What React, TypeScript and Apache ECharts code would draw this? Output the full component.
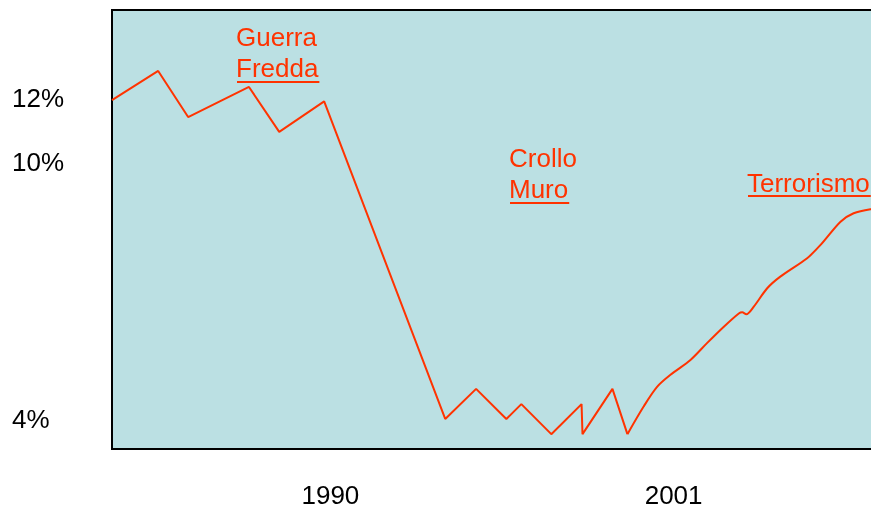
import React, { useEffect, useRef } from "react";
import * as echarts from "echarts";

// x in years, y in percent
const stepX = [1983.0, 1984.48, 1985.44, 1987.39, 1988.36, 1989.8, 1993.68, 1994.67, 1995.64, 1996.12, 1997.08, 1998.05, 1998.08, 1999.04, 1999.52];
const stepY = [11.95, 12.68, 11.53, 12.28, 11.16, 11.92, 4.0, 4.75, 4.0, 4.37, 3.62, 4.37, 3.62, 4.75, 3.62];

const curveX = [1999.52, 2000.04, 2000.47, 2000.9, 2001.54, 2002.07, 2002.61, 2003.09, 2003.2, 2003.33, 2003.57, 2004.0, 2004.42, 2005.28, 2005.71, 2006.35, 2006.77, 2007.31, 2008.0];
const curveY = [3.62, 4.31, 4.8, 5.1, 5.47, 5.89, 6.3, 6.63, 6.66, 6.61, 6.8, 7.26, 7.55, 8.01, 8.34, 8.92, 9.13, 9.23, 9.28];

const xTickYears = [1990, 2001];
const yTickValues = [4, 10.4, 12];

const annotations = [
  { lines: ["Guerra", "Fredda"], x: 236, y: [37, 68], underlineY: 81 },
  { lines: ["Crollo", "Muro"], x: 509, y: [158, 189], underlineY: 202 },
  { lines: ["Terrorismo"], x: 747, y: [183], underlineY: 195 },
];

const RED = "#FF3300";
const FONT = '26px "Liberation Sans", Arial, sans-serif';

function measure(text: string): number {
  const c = document.createElement("canvas").getContext("2d");
  if (!c) return text.length * 14;
  c.font = FONT;
  return c.measureText(text).width;
}

export default function App() {
  const ref = useRef<HTMLDivElement>(null);
  useEffect(() => {
    if (!ref.current) return;
    const chart = echarts.init(ref.current, undefined, { renderer: "svg" });
    const graphics: any[] = [];
    annotations.forEach((a) => {
      a.lines.forEach((t, i) => {
        graphics.push({
          type: "text",
          x: a.x,
          y: a.y[i],
          silent: true,
          style: { text: t, font: FONT, fill: RED, align: "left", verticalAlign: "middle" },
        });
      });
      const last = a.lines[a.lines.length - 1];
      graphics.push({
        type: "rect",
        silent: true,
        shape: { x: a.x + 1, y: a.underlineY, width: measure(last), height: 2 },
        style: { fill: RED },
      });
    });
    chart.setOption({
      animation: false,
      grid: {
        left: 112,
        top: 10,
        width: 780,
        height: 439,
        show: true,
        backgroundColor: "#BBE0E3",
        borderColor: "#000",
        borderWidth: 2,
        containLabel: false,
      },
      xAxis: {
        type: "value",
        min: 1983,
        max: 2008,
        axisLine: { show: false },
        axisTick: { show: false },
        splitLine: { show: false },
        axisLabel: {
          customValues: xTickYears,
          formatter: (v: number) => String(Math.round(v)),
          fontSize: 26,
          fontFamily: '"Liberation Sans", Arial, sans-serif',
          color: "#000",
          margin: 33,
        },
      },
      yAxis: {
        type: "value",
        min: 3.25,
        max: 14.2,
        axisLine: { show: false },
        axisTick: { show: false },
        splitLine: { show: false },
        axisLabel: {
          customValues: yTickValues,
          formatter: (v: number) => Math.round(v) + "%",
          fontSize: 26,
          fontFamily: '"Liberation Sans", Arial, sans-serif',
          color: "#000",
          align: "left",
          margin: 100,
        },
      },
      series: [
        {
          type: "line",
          data: stepX.map((x, i) => [x, stepY[i]]),
          showSymbol: false,
          symbol: "none",
          lineStyle: { color: RED, width: 2 },
          silent: true,
        },
        {
          type: "line",
          data: curveX.map((x, i) => [x, curveY[i]]),
          showSymbol: false,
          symbol: "none",
          smooth: 0.3,
          lineStyle: { color: RED, width: 2 },
          silent: true,
        },
      ],
      graphic: graphics,
    });
    return () => chart.dispose();
  }, []);
  return (
    <div style={{ position: "fixed", left: 0, top: 0, width: 871, height: 509, overflow: "hidden" }}>
      <div ref={ref} style={{ width: 905, height: 509 }} />
    </div>
  );
}
